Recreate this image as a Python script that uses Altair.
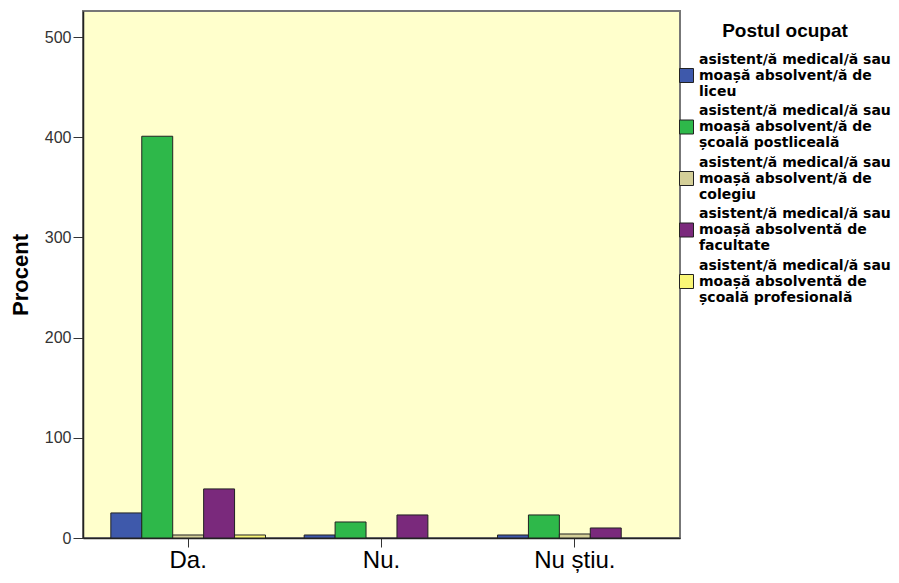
import altair as alt
import pandas as pd

categories = ["Da.", "Nu.", "Nu știu."]
series = [
    "asistent/ă medical/ă sau|moașă absolvent/ă de|liceu",
    "asistent/ă medical/ă sau|moașă absolvent/ă de|școală postliceală",
    "asistent/ă medical/ă sau|moașă absolvent/ă de|colegiu",
    "asistent/ă medical/ă sau|moașă absolventă de|facultate",
    "asistent/ă medical/ă sau|moașă absolventă de|școală profesională",
]
colors = ["#3E59AB", "#2EB84A", "#D4CF98", "#7A297C", "#F9F676"]
values = [
    [25, 3, 3],
    [401, 16, 23],
    [3, 0, 4],
    [49, 23, 10],
    [3, 0, 0],
]
y_ticks = [0, 100, 200, 300, 400, 500]

rows = []
for s, vals in zip(series, values):
    for c, v in zip(categories, vals):
        if v > 0:
            rows.append({"cat": c, "series": s, "value": v})
df = pd.DataFrame(rows)

FONT = "Liberation Sans"
# square symbol drawn one text line lower, so it sits beside the middle line
SYMBOL = "M-1,1.286L1,1.286L1,3.286L-1,3.286Z"

chart = alt.Chart(df).mark_bar(stroke="#222222", strokeWidth=1).encode(
    x=alt.X("cat:N", sort=categories, title=None,
            scale=alt.Scale(paddingInner=0.2, paddingOuter=0.144),
            axis=alt.Axis(labelAngle=0, labelFontSize=24, labelFont=FONT,
                          labelColor="#000", tickSize=9, tickColor="#333",
                          domainColor="#222", domainWidth=1.5, labelPadding=1)),
    xOffset=alt.XOffset("series:N", sort=series,
                        scale=alt.Scale(domain=series, paddingInner=0, paddingOuter=0)),
    y=alt.Y("value:Q", title="Procent",
            scale=alt.Scale(domain=[0, 526], nice=False),
            axis=alt.Axis(values=y_ticks, grid=False, labelFontSize=16, labelFont=FONT,
                          labelColor="#333", tickSize=10, tickColor="#333",
                          domainColor="#222", domainWidth=1.5, labelPadding=2,
                          titleFont=FONT, titleFontSize=22, titleFontWeight="bold",
                          titleColor="#000", titlePadding=12)),
    color=alt.Color("series:N", sort=series,
                    scale=alt.Scale(domain=series, range=colors),
                    legend=alt.Legend(title="Postul ocupat", orient="none",
                                      legendX=596, legendY=11,
                                      titleFont=FONT, titleFontSize=19, titleFontWeight="bold",
                                      titleColor="#000", titleAnchor="middle",
                                      titlePadding=11,
                                      labelExpr="split(datum.label, '|')",
                                      labelFont="DejaVu Sans", labelFontSize=14,
                                      labelFontWeight="bold",
                                      labelColor="#000", labelLimit=400, labelOffset=5,
                                      labelBaseline="middle",
                                      symbolType=SYMBOL, symbolSize=196,
                                      symbolStrokeColor="#222", symbolStrokeWidth=1,
                                      symbolOpacity=1, rowPadding=4.5, padding=0)),
).properties(
    width=597, height=527,
    background="white",
    padding={"left": 75, "top": 3, "right": 211, "bottom": 37},
    autosize=alt.AutoSizeParams(type="none"),
).configure_view(
    fill="#FFFFCC", stroke="#777777", strokeWidth=2
)

chart.save("out.html", embed_options={"renderer": "svg", "actions": False})
